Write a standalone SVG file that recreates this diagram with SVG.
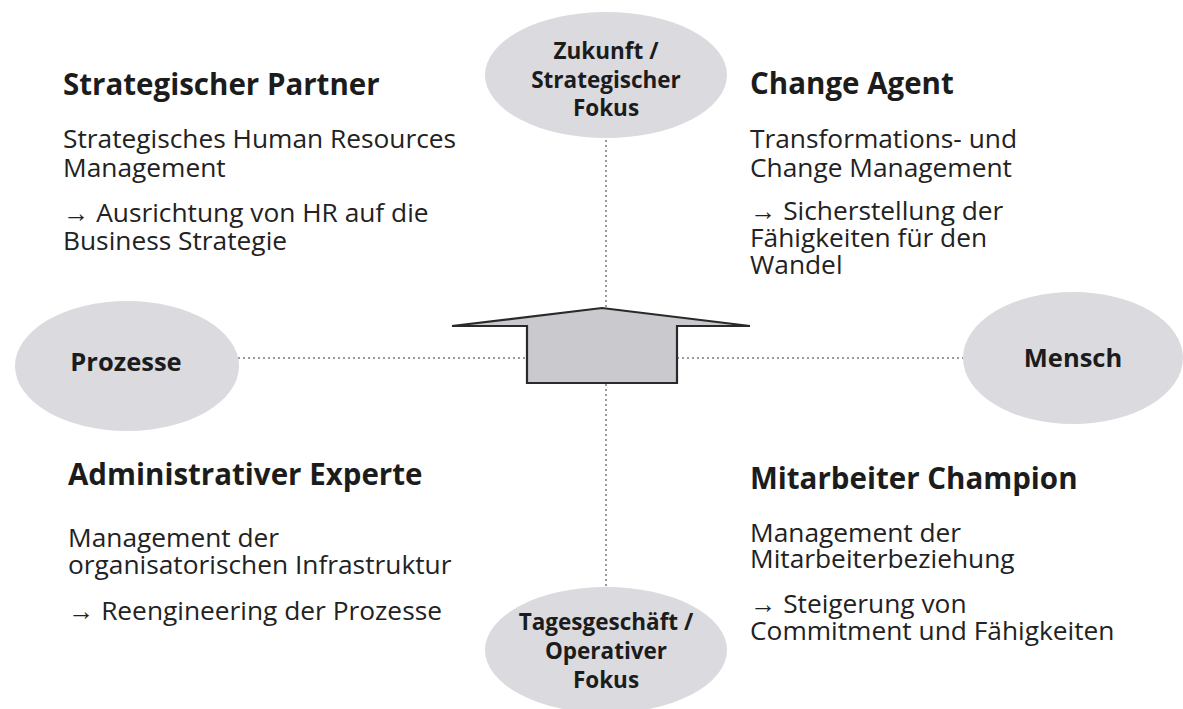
<svg xmlns="http://www.w3.org/2000/svg" width="1183" height="709" viewBox="0 0 1183 709">
  <style>
    .bg { fill: #ffffff; }
    .oval { fill: #dadadf; stroke: none; }
    .olabel { font-family: "Open Sans", "Noto Sans", sans-serif; font-weight: 700; font-size: 22.5px; fill: #1c1c1c; text-anchor: middle; }
    .olabel-lg { font-family: "Open Sans", "Noto Sans", sans-serif; font-weight: 700; font-size: 25.5px; fill: #1c1c1c; text-anchor: middle; }
    .head { font-family: "Open Sans", "Noto Sans", sans-serif; font-weight: 700; font-size: 29.5px; fill: #1c1c1c; }
    .body { font-family: "Open Sans", "Noto Sans", sans-serif; font-weight: 400; font-size: 26.3px; fill: #222222; }
    .dots { stroke: #9a9a9a; stroke-width: 2; stroke-dasharray: 2 3; fill: none; }
    .arrow { fill: #c9c9ce; stroke: #2a2a2a; stroke-width: 2.2; stroke-linejoin: miter; }
  </style>

  <rect class="bg" x="0" y="0" width="1183" height="709"/>

  <!-- dotted axes -->
  <g id="connectors">
    <line class="dots" x1="606" y1="140" x2="606" y2="308"/>
    <line class="dots" x1="606" y1="384" x2="606" y2="588"/>
    <line class="dots" x1="238" y1="358" x2="527" y2="358"/>
    <line class="dots" x1="677" y1="358" x2="964" y2="358"/>
  </g>

  <!-- central upward arrow -->
  <g id="arrow">
    <polygon class="arrow" points="452,326 602,308 750,326 677,326 677,383 527,383 527,326"/>
  </g>

  <!-- axis end ovals -->
  <g id="node-zukunft">
    <ellipse class="oval" cx="606" cy="75" rx="121" ry="63"/>
    <text class="olabel" x="606" y="59">Zukunft /</text>
    <text class="olabel" x="606" y="88">Strategischer</text>
    <text class="olabel" x="606" y="116">Fokus</text>
  </g>

  <g id="node-prozesse">
    <ellipse class="oval" cx="127" cy="366" rx="112" ry="65"/>
    <text class="olabel-lg" x="126" y="371">Prozesse</text>
  </g>

  <g id="node-mensch">
    <ellipse class="oval" cx="1073" cy="358" rx="110" ry="66"/>
    <text class="olabel-lg" x="1073" y="367">Mensch</text>
  </g>

  <g id="node-tagesgeschaeft">
    <ellipse class="oval" cx="606" cy="650" rx="121" ry="63"/>
    <text class="olabel" x="606" y="630">Tagesgeschäft /</text>
    <text class="olabel" x="606" y="659">Operativer</text>
    <text class="olabel" x="606" y="688">Fokus</text>
  </g>

  <!-- quadrant descriptions -->
  <g id="quadrant-strategischer-partner">
    <text class="head" x="63" y="95">Strategischer Partner</text>
    <text class="body" x="63" y="148">Strategisches Human Resources</text>
    <text class="body" x="63" y="177">Management</text>
    <text class="body" x="63" y="222">→ Ausrichtung von HR auf die</text>
    <text class="body" x="63" y="250">Business Strategie</text>
  </g>

  <g id="quadrant-change-agent">
    <text class="head" x="750" y="94">Change Agent</text>
    <text class="body" x="750" y="148">Transformations- und</text>
    <text class="body" x="750" y="177">Change Management</text>
    <text class="body" x="750" y="220">→ Sicherstellung der</text>
    <text class="body" x="750" y="247">Fähigkeiten für den</text>
    <text class="body" x="750" y="274">Wandel</text>
  </g>

  <g id="quadrant-administrativer-experte">
    <text class="head" x="68" y="485">Administrativer Experte</text>
    <text class="body" x="68" y="547">Management der</text>
    <text class="body" x="68" y="574">organisatorischen Infrastruktur</text>
    <text class="body" x="68" y="620">→ Reengineering der Prozesse</text>
  </g>

  <g id="quadrant-mitarbeiter-champion">
    <text class="head" x="750" y="489">Mitarbeiter Champion</text>
    <text class="body" x="750" y="542">Management der</text>
    <text class="body" x="750" y="568">Mitarbeiterbeziehung</text>
    <text class="body" x="750" y="613">→ Steigerung von</text>
    <text class="body" x="750" y="640">Commitment und Fähigkeiten</text>
  </g>
</svg>
